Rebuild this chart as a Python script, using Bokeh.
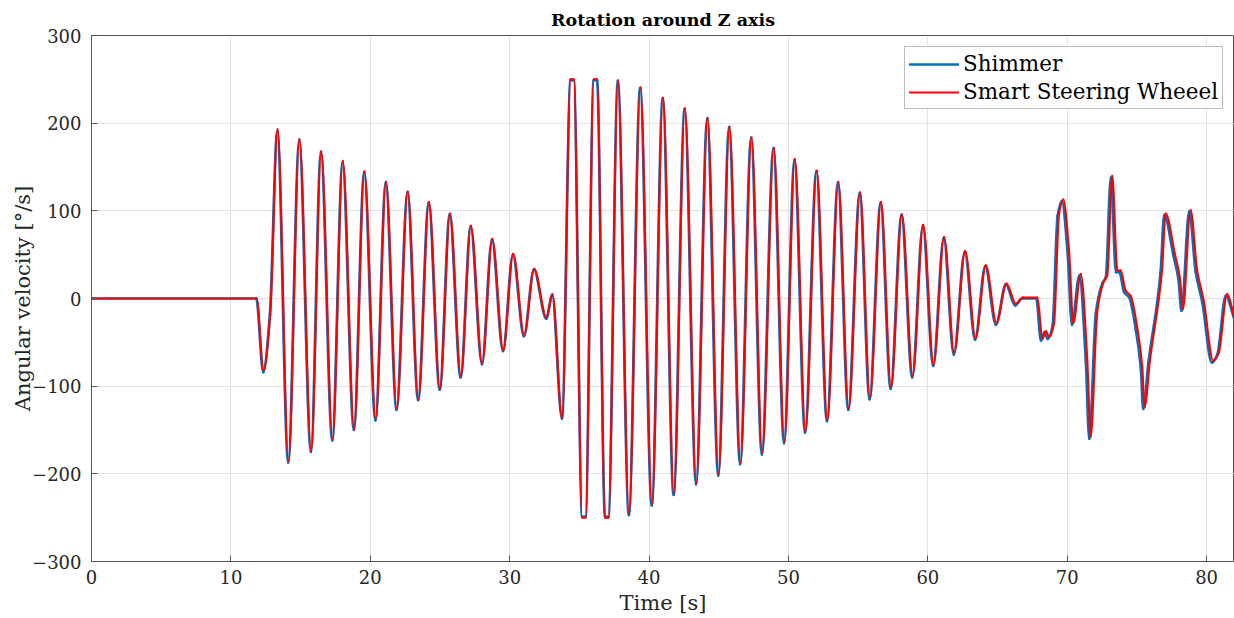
import numpy as np
from bokeh.plotting import figure
from bokeh.models import Range1d, FixedTicker, Legend, LegendItem, ColumnDataSource
from bokeh.embed import file_html
from bokeh.resources import INLINE

# ---- data ----
x_ticks = [0, 10, 20, 30, 40, 50, 60, 70, 80]
y_ticks = [-300, -200, -100, 0, 100, 200, 300]
y_tick_labels = {-300: "\u2212300", -200: "\u2212200", -100: "\u2212100", 0: "0",
                 100: "100", 200: "200", 300: "300"}

ssw_t = [0.0, 11.85, 12.34, 12.82, 13.35, 14.13, 14.92, 15.76, 16.48, 17.29, 18.03, 18.84,
         19.58, 20.39, 21.13, 21.90, 22.69, 23.45, 24.21, 25.00, 25.72, 26.50, 27.22, 28.03,
         28.75, 29.54, 30.25, 31.04, 31.76, 32.64, 33.07, 33.76, 34.37, 34.60, 35.20, 35.44,
         36.03, 36.27, 36.84, 37.08, 37.77, 38.56, 39.38, 40.21, 41.00, 41.78, 42.57, 43.39,
         44.20, 44.99, 45.77, 46.56, 47.35, 48.12, 48.95, 49.71, 50.46, 51.22, 52.03, 52.79,
         53.58, 54.32, 55.14, 55.85, 56.64, 57.36, 58.14, 58.91, 59.67, 60.41, 61.17, 61.89,
         62.68, 63.42, 64.16, 64.92, 65.64, 66.31, 66.80, 67.86, 68.22, 68.46, 68.70, 69.05,
         69.41, 69.72, 70.13, 70.44, 70.97, 71.44, 71.68, 72.16, 72.64, 72.87, 73.23, 73.60,
         73.84, 74.19, 74.55, 75.02, 75.38, 75.55, 75.93, 76.80, 77.06, 77.72, 78.08, 78.30,
         78.85, 79.32, 79.80, 80.47, 80.87, 81.47, 82.00]
ssw_v = [0, 0, -82, -18, 193, -185, 182, -174, 168, -160, 157, -149,
         145, -137, 133, -125, 122, -115, 110, -103, 97, -88, 83, -74,
         68, -59, 51, -42, 34, -22, 5, -136, 250, 250, -250, -250,
         250, 250, -250, -250, 249, -245, 241, -234, 229, -222, 217, -210,
         206, -200, 196, -187, 184, -176, 172, -163, 159, -151, 146, -138,
         133, -125, 121, -113, 110, -101, 96, -88, 84, -75, 70, -62,
         54, -45, 38, -28, 17, -6, 1, 1, -46, -37, -44, -29,
         96, 113, 54, -28, 28, -71, -158, -14, 20, 26, 140, 32,
         32, 9, 3, -33, -77, -124, -71, 32, 97, 51, 24, -12,
         101, 32, -3, -71, -62, 5, -22]

shim_t = [0.0, 11.82, 12.32, 12.80, 13.33, 14.11, 14.90, 15.74, 16.46, 17.27, 18.01, 18.82,
          19.56, 20.37, 21.11, 21.88, 22.67, 23.43, 24.19, 24.98, 25.70, 26.48, 27.20, 28.01,
          28.73, 29.52, 30.23, 31.02, 31.74, 32.62, 33.05, 33.75, 34.37, 34.60, 35.20, 35.44,
          36.03, 36.27, 36.84, 37.08, 37.76, 38.55, 39.36, 40.19, 40.98, 41.76, 42.55, 43.37,
          44.17, 44.96, 45.74, 46.53, 47.32, 48.09, 48.92, 49.68, 50.43, 51.19, 52.00, 52.76,
          53.55, 54.29, 55.11, 55.82, 56.61, 57.33, 58.11, 58.88, 59.64, 60.38, 61.14, 61.86,
          62.65, 63.39, 64.12, 64.88, 65.60, 66.27, 66.76, 67.78, 68.12, 68.36, 68.60, 68.95,
          69.31, 69.62, 70.03, 70.34, 70.87, 71.34, 71.58, 72.06, 72.54, 72.77, 73.13, 73.50,
          73.74, 74.09, 74.45, 74.92, 75.28, 75.45, 75.83, 76.70, 76.96, 77.62, 77.98, 78.20,
          78.75, 79.22, 79.70, 80.37, 80.77, 81.37, 82.00]
shim_v = [0, 0, -84, -18, 191, -187, 180, -175, 167, -162, 155, -150,
          144, -139, 132, -127, 121, -116, 109, -104, 96, -90, 82, -75,
          67, -60, 50, -43, 33, -23, 4, -137, 249, 249, -249, -249,
          249, 249, -249, -249, 248, -247, 240, -236, 228, -224, 216, -212,
          205, -202, 195, -189, 183, -178, 171, -165, 158, -153, 145, -140,
          132, -127, 120, -115, 109, -103, 95, -90, 83, -77, 69, -64,
          53, -47, 37, -30, 16, -8, 0, 0, -48, -39, -46, -31,
          94, 111, 52, -30, 26, -73, -160, -16, 18, 24, 138, 30,
          30, 7, 1, -35, -79, -126, -73, 30, 95, 49, 22, -14,
          99, 30, -5, -73, -64, 3, -24]

series_names = ["Shimmer", "Smart Steering Wheeel"]
series_colors = ["#0072BD", "#FF0000"]


def smooth_segments(t, v):
    """Monotone cubic (Fritsch-Carlson) rendering of the read points as
    Bezier segments: the curve passes through every point, without overshoot."""
    t = np.asarray(t, float)
    v = np.asarray(v, float)
    h = np.diff(t)
    d = np.diff(v) / h
    m = np.zeros_like(v)
    for i in range(1, len(v) - 1):
        if d[i - 1] * d[i] > 0:
            w1 = 2 * h[i] + h[i - 1]
            w2 = h[i] + 2 * h[i - 1]
            m[i] = (w1 + w2) / (w1 / d[i - 1] + w2 / d[i])
    m[0] = 0.0
    m[-1] = d[-1]
    return dict(x0=t[:-1], y0=v[:-1], x1=t[1:], y1=v[1:],
                cx0=t[:-1] + h / 3, cy0=v[:-1] + m[:-1] * h / 3,
                cx1=t[1:] - h / 3, cy1=v[1:] - m[1:] * h / 3)


FONT = "DejaVu Serif"
AX_COLOR = "#555555"
TXT_COLOR = "#262626"

p = figure(width=1234, height=618,
           x_range=Range1d(0, 82), y_range=Range1d(-300, 300),
           output_backend="svg", toolbar_location=None,
           min_border_left=91, min_border_right=0, min_border_top=35, min_border_bottom=57)

p.title.text = "Rotation around Z axis"
p.title.align = "center"
p.title.text_font = FONT
p.title.text_font_style = "bold"
p.title.text_font_size = "17.5px"
p.title.text_color = "#000000"
p.title.standoff = 11

p.outline_line_color = AX_COLOR
p.outline_line_width = 1
p.outline_line_alpha = 1.0

for ax in p.xaxis + p.yaxis:
    ax.major_tick_in = 6
    ax.major_tick_out = 0
    ax.minor_tick_line_color = None
    ax.axis_line_color = AX_COLOR
    ax.major_tick_line_color = AX_COLOR
    ax.major_label_text_font = FONT
    ax.major_label_text_font_size = "18px"
    ax.major_label_text_color = TXT_COLOR
    ax.axis_label_text_font = FONT
    ax.axis_label_text_font_size = "21px"
    ax.axis_label_text_font_style = "normal"
    ax.axis_label_text_color = TXT_COLOR

p.xaxis.ticker = FixedTicker(ticks=x_ticks)
p.yaxis.ticker = FixedTicker(ticks=y_ticks)
p.yaxis.major_label_overrides = y_tick_labels
p.xaxis.axis_label = "Time [s]"
p.yaxis.axis_label = "Angular velocity [\u00b0/s]"
p.xaxis.major_label_standoff = 8
p.yaxis.major_label_standoff = 10
p.xaxis.axis_label_standoff = 4
p.yaxis.axis_label_standoff = -6

p.xgrid.ticker = FixedTicker(ticks=x_ticks)
p.ygrid.ticker = FixedTicker(ticks=y_ticks)
p.grid.grid_line_color = "#e2e2e2"
p.grid.grid_line_width = 1

src_shim = ColumnDataSource(smooth_segments(shim_t, shim_v))
src_ssw = ColumnDataSource(smooth_segments(ssw_t, ssw_v))
r_shim = p.bezier(x0="x0", y0="y0", x1="x1", y1="y1", cx0="cx0", cy0="cy0",
                  cx1="cx1", cy1="cy1", source=src_shim,
                  line_color=series_colors[0], line_width=2.7, line_cap="round")
r_ssw = p.bezier(x0="x0", y0="y0", x1="x1", y1="y1", cx0="cx0", cy0="cy0",
                 cx1="cx1", cy1="cy1", source=src_ssw,
                 line_color=series_colors[1], line_width=2.1, line_cap="round")

legend = Legend(items=[LegendItem(label=series_names[0], renderers=[r_shim], index=0),
                       LegendItem(label=series_names[1], renderers=[r_ssw], index=0)],
                location=(813, 452))
legend.label_text_font = FONT
legend.label_text_font_size = "21.5px"
legend.label_text_color = "#000000"
legend.glyph_width = 50
legend.glyph_height = 22
legend.label_height = 22
legend.label_standoff = 4
legend.spacing = 3
legend.padding = 4
legend.margin = 0
legend.border_line_color = "#7a7a7a"
legend.border_line_width = 1
legend.background_fill_alpha = 1.0
p.add_layout(legend)

open("out.html", "w").write(file_html(p, INLINE))
